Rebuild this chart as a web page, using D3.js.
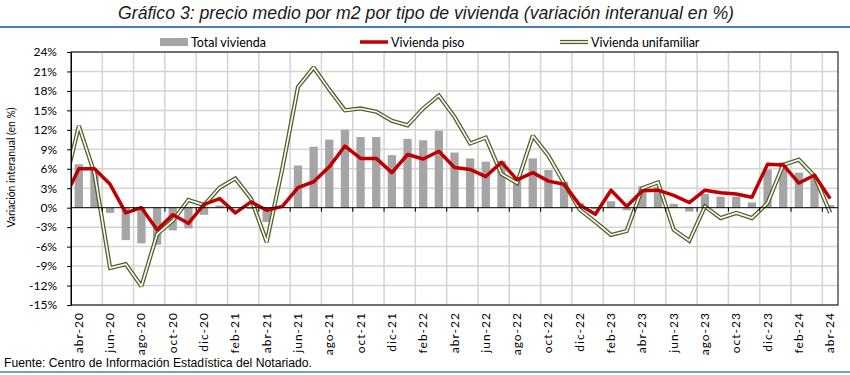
<!DOCTYPE html>
<html><head><meta charset="utf-8">
<script src="https://cdn.jsdelivr.net/npm/d3@7"></script>
<style>
body{margin:0;background:#fff;}
svg{display:block;}
</style></head>
<body>
<svg id="chart" width="850" height="375"></svg>
<script>
const months = ["mar-20","abr-20","may-20","jun-20","jul-20","ago-20","sep-20","oct-20","nov-20","dic-20",
"ene-21","feb-21","mar-21","abr-21","may-21","jun-21","jul-21","ago-21","sep-21","oct-21","nov-21","dic-21",
"ene-22","feb-22","mar-22","abr-22","may-22","jun-22","jul-22","ago-22","sep-22","oct-22","nov-22","dic-22",
"ene-23","feb-23","mar-23","abr-23","may-23","jun-23","jul-23","ago-23","sep-23","oct-23","nov-23","dic-23",
"ene-24","feb-24","mar-24","abr-24"];
const totalVivienda = [null,6.7,5.8,-0.8,-5.0,-5.5,-5.7,-3.5,-3.2,-1.1,0.35,0.0,-0.2,-2.2,0.1,6.5,9.4,10.5,12.0,10.9,10.9,8.1,10.6,10.4,11.9,8.5,7.6,7.1,7.2,4.6,7.6,5.8,4.0,0.7,-0.2,1.0,-0.4,3.3,3.2,0.6,-0.6,2.1,1.7,1.7,0.8,5.9,7.0,5.4,4.5,0.4];
const viviendaPiso = [1.0,6.0,6.0,3.6,-0.8,0.0,-3.4,-1.1,-2.4,0.5,1.4,-0.8,0.9,-0.4,0.2,3.1,4.0,6.3,9.5,7.6,7.6,5.4,8.2,7.5,8.7,6.2,5.9,4.8,7.0,4.3,5.4,4.1,3.6,0.4,-1.0,2.7,0.2,2.6,2.7,1.9,0.8,2.7,2.3,2.1,1.6,6.7,6.6,3.8,5.0,1.4];
const viviendaUnifamiliar = [2.5,12.6,5.3,-9.3,-8.7,-12.1,-4.1,-2.0,1.2,0.4,3.1,4.5,1.4,-5.3,6.0,18.6,21.6,18.2,15.0,15.3,14.8,13.4,12.7,15.3,17.3,14.0,9.9,10.8,5.2,3.8,11.1,8.0,3.8,-0.3,-2.2,-4.2,-3.6,3.0,3.9,-3.4,-5.1,0.2,-1.6,-0.8,-1.6,0.7,6.6,7.4,4.9,-0.8];
const yTicks = [-15,-12,-9,-6,-3,0,3,6,9,12,15,18,21,24];
const seriesNames = ["Total vivienda","Vivienda piso","Vivienda unifamiliar"];
const titleText = "Gráfico 3: precio medio por m2 por tipo de vivienda (variación interanual en %)";
const yTitle = "Variación interanual (en %)";
const sourceText = "Fuente: Centro de Información Estadística del Notariado.";

const svg = d3.select("#chart");
const L = 71, R = 838, T = 52, B = 305;
const nShown = months.length - 1;
const step = (R - L) / nShown;
const x = d3.scaleBand().domain(months).range([L - step, R]).padding(0);
const y = d3.scaleLinear().domain([-15, 24]).range([B, T]);
const bw = x.bandwidth();
const tickFont = "Lato, 'Open Sans', sans-serif";
const narrow = "'Liberation Sans Narrow', 'Liberation Sans', Arial, sans-serif";

// title
svg.append("text").attr("x", 426).attr("y", 19).attr("text-anchor", "middle")
  .attr("font-family", narrow).attr("font-style", "italic").attr("font-size", 17.5)
  .attr("fill", "#1a1a1a").attr("textLength", 616).attr("lengthAdjust", "spacingAndGlyphs").text(titleText);
svg.append("line").attr("x1", 0).attr("x2", 850).attr("y1", 27).attr("y2", 27)
  .attr("stroke", "#4f7cac").attr("stroke-width", 2);
svg.append("line").attr("x1", 0).attr("x2", 850).attr("y1", 372).attr("y2", 372)
  .attr("stroke", "#4f7cac").attr("stroke-width", 1.5);

// gridlines
const grid = svg.append("g");
grid.selectAll("line.h").data(yTicks.filter(d => d !== 0)).join("line")
  .attr("x1", L).attr("x2", R).attr("y1", d => y(d)).attr("y2", d => y(d))
  .attr("stroke", "#d4d4d4").attr("stroke-width", 1.5);
const vIdx = months.map((m, i) => i).filter(i => i > 1 && (i - 1) % 2 === 0);
grid.selectAll("line.v").data(vIdx).join("line")
  .attr("x1", i => x(months[i])).attr("x2", i => x(months[i]))
  .attr("y1", T).attr("y2", B)
  .attr("stroke", "#d4d4d4").attr("stroke-width", 1.5);

// clip
svg.append("clipPath").attr("id", "clip").append("rect")
  .attr("x", L).attr("y", T).attr("width", R - L).attr("height", B - T);
const plot = svg.append("g").attr("clip-path", "url(#clip)");

// bars
const barData = months.map((m, i) => ({m, v: totalVivienda[i]})).filter(d => d.v !== null);
plot.selectAll("rect.bar").data(barData).join("rect")
  .attr("x", d => x(d.m) + bw * 0.235).attr("width", bw * 0.53)
  .attr("y", d => y(Math.max(0, d.v))).attr("height", d => Math.abs(y(d.v) - y(0)))
  .attr("fill", "#a5a5a5");

// zero axis line + ticks
svg.append("line").attr("x1", L).attr("x2", R).attr("y1", y(0)).attr("y2", y(0))
  .attr("stroke", "#000").attr("stroke-width", 1);
svg.selectAll("line.zt").data(vIdx).join("line")
  .attr("x1", i => x(months[i])).attr("x2", i => x(months[i]))
  .attr("y1", y(0)).attr("y2", y(0) + 4).attr("stroke", "#000");

// lines
const line = d3.line().x((d, i) => x(months[i]) + bw / 2).y(d => y(d));
plot.append("path").datum(viviendaUnifamiliar).attr("d", line).attr("fill", "none")
  .attr("stroke", "#4f6228").attr("stroke-width", 4.2).attr("stroke-linejoin", "miter").attr("stroke-miterlimit", 1.6);
plot.append("path").datum(viviendaUnifamiliar).attr("d", line).attr("fill", "none")
  .attr("stroke", "#ffffff").attr("stroke-width", 1.6).attr("stroke-linejoin", "miter").attr("stroke-miterlimit", 1.6);
plot.append("path").datum(viviendaPiso).attr("d", line).attr("fill", "none")
  .attr("stroke", "#c00000").attr("stroke-width", 3.5).attr("stroke-linejoin", "round");

// plot border
svg.append("rect").attr("x", L).attr("y", T).attr("width", R - L).attr("height", B - T)
  .attr("fill", "none").attr("stroke", "#000").attr("stroke-width", 1);

// y axis
const yAxis = svg.append("g").attr("transform", `translate(${L},0)`)
  .call(d3.axisLeft(y).tickValues(yTicks).tickFormat(d => d + "%").tickSize(4).tickPadding(10));
yAxis.select(".domain").attr("stroke", "#000");
yAxis.selectAll("text").attr("font-family", tickFont).attr("font-size", 12).attr("fill", "#000");

// x labels
const xl = months.map((m, i) => i).filter(i => i >= 1 && (i - 1) % 2 === 0);
svg.selectAll("text.xl").data(xl).join("text")
  .attr("transform", i => `translate(${x(months[i]) + bw / 2 + 4},312) rotate(-90)`)
  .attr("text-anchor", "end").attr("font-family", tickFont).attr("font-size", 12)
  .attr("letter-spacing", 1).attr("fill", "#000").text(i => months[i]);

// y title
svg.append("text").attr("transform", `translate(15,${(T + B) / 2 - 11}) rotate(-90)`)
  .attr("text-anchor", "middle").attr("font-family", tickFont).attr("font-size", 10.5)
  .attr("fill", "#000").attr("textLength", 120).attr("lengthAdjust", "spacingAndGlyphs").text(yTitle);

// source
svg.append("text").attr("x", 4).attr("y", 367).attr("font-family", narrow)
  .attr("font-size", 12).attr("fill", "#000").attr("textLength", 308).attr("lengthAdjust", "spacingAndGlyphs").text(sourceText);

// legend
const lg = svg.append("g");
const lx = [160, 360, 560];
lg.append("rect").attr("x", lx[0]).attr("y", 38).attr("width", 28).attr("height", 8).attr("fill", "#a5a5a5");
lg.append("line").attr("x1", lx[1]).attr("x2", lx[1] + 28).attr("y1", 42).attr("y2", 42)
  .attr("stroke", "#c00000").attr("stroke-width", 3.5);
lg.append("line").attr("x1", lx[2]).attr("x2", lx[2] + 28).attr("y1", 42).attr("y2", 42)
  .attr("stroke", "#4f6228").attr("stroke-width", 4.2);
lg.append("line").attr("x1", lx[2]).attr("x2", lx[2] + 28).attr("y1", 42).attr("y2", 42)
  .attr("stroke", "#fff").attr("stroke-width", 1.6);
lg.selectAll("text").data(seriesNames).join("text")
  .attr("x", (d, i) => lx[i] + 31).attr("y", 46.5)
  .attr("font-family", tickFont).attr("font-size", 12.5).attr("fill", "#000").text(d => d);
</script>
</body></html>
